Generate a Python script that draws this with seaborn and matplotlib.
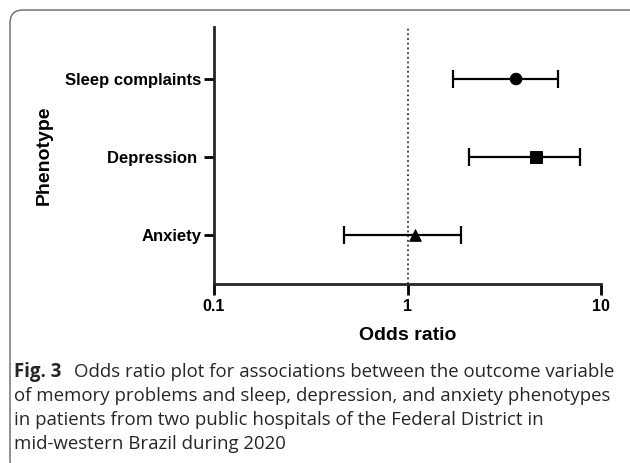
import numpy as np
import pandas as pd
import matplotlib
matplotlib.use("Agg")
import matplotlib.pyplot as plt
import seaborn as sns
from matplotlib.patches import FancyBboxPatch

# Data (top to bottom)
phenotypes = ["Sleep complaints", "Depression", "Anxiety"]
ytick_labels = ["Sleep complaints", "Depression ", "Anxiety"]
odds_ratio = [3.64, 4.60, 1.10]
ci_lower = [1.72, 2.07, 0.47]
ci_upper = [6.00, 7.80, 1.88]
marker_shapes = ["o", "s", "^"]

x_ticks = [0.1, 1, 10]
x_tick_labels = ["0.1", "1", "10"]

caption_bold = "Fig. 3"
caption_lines = [
    "Odds ratio plot for associations between the outcome variable",
    "of memory problems and sleep, depression, and anxiety phenotypes",
    "in patients from two public hospitals of the Federal District in",
    "mid-western Brazil during 2020",
]

sns.set_theme(style="ticks")
plt.rcParams["font.family"] = ["Liberation Sans", "DejaVu Sans"]

df = pd.DataFrame({
    "phenotype": phenotypes,
    "odds_ratio": odds_ratio,
    "lower": ci_lower,
    "upper": ci_upper,
})
# bottom category at 0, top at n-1
df["ypos"] = len(df) - 1 - np.arange(len(df))

W, H = 630, 463
fig = plt.figure(figsize=(W / 100, H / 100), dpi=100)
ax = fig.add_axes([214 / W, 1 - 284 / H, (601 - 214) / W, (284 - 27) / H])

# reference line at OR = 1
ax.axvline(1, color="#333333", linestyle=(0, (1, 1.6)), linewidth=1.3, zorder=1)

# confidence intervals
ax.errorbar(df["odds_ratio"], df["ypos"],
            xerr=[df["odds_ratio"] - df["lower"], df["upper"] - df["odds_ratio"]],
            fmt="none", ecolor="black", elinewidth=1.6, capsize=6.5, capthick=1.6,
            zorder=2)

# point estimates
sns.scatterplot(data=df, x="odds_ratio", y="ypos", style="phenotype",
                markers=dict(zip(phenotypes, marker_shapes)), color="black",
                edgecolor="black", s=70, legend=False, ax=ax, zorder=3)

ax.set_xscale("log")
ax.set_xlim(0.1, 10)
ax.set_ylim(-0.62, 2.665)
ax.set_xticks(x_ticks)
ax.set_xticklabels(x_tick_labels, fontsize=11.5, fontweight="bold")
ax.xaxis.set_minor_locator(matplotlib.ticker.NullLocator())
ax.set_yticks(df["ypos"])
ax.set_yticklabels(ytick_labels, fontsize=12, fontweight="bold")

for side in ["top", "right"]:
    ax.spines[side].set_visible(False)
for side in ["left", "bottom"]:
    ax.spines[side].set_linewidth(2.0)
ax.tick_params(axis="both", width=2.0, color="black", labelcolor="black")
ax.tick_params(axis="x", length=8, pad=3)
ax.tick_params(axis="y", length=7, pad=2)

ax.set_xlabel("Odds ratio", fontsize=14, fontweight="bold", color="black")
ax.set_ylabel("Phenotype", fontsize=14, fontweight="bold", color="black")
ax.xaxis.set_label_coords(0.5, (284 - 327) / 257)
ax.yaxis.set_label_coords((53 - 214) / 387, 0.5)

# rounded card border
card = FancyBboxPatch((0.10, -0.10), 6.5, 4.53 + 0.10,
                      boxstyle="round,pad=0,rounding_size=0.13",
                      transform=fig.dpi_scale_trans, facecolor="none",
                      edgecolor="#666666", linewidth=1.0, zorder=0)
fig.patches.append(card)

# caption
cap_font = ["Open Sans", "DejaVu Sans"]
cap_size = 13.4
x0 = 14 / W
baselines = [377, 401, 425, 449]
t0 = fig.text(x0, 1 - baselines[0] / H, caption_bold, fontsize=cap_size,
              fontweight="bold", family=cap_font, va="baseline", ha="left")
renderer = fig.canvas.get_renderer()
bb = t0.get_window_extent(renderer=renderer)
fig.text((bb.x1 + 13) / W, 1 - baselines[0] / H, caption_lines[0],
         fontsize=cap_size, family=cap_font, va="baseline", ha="left")
for line, yb in zip(caption_lines[1:], baselines[1:]):
    fig.text(x0, 1 - yb / H, line, fontsize=cap_size, family=cap_font,
             va="baseline", ha="left")

fig.savefig("out.png", dpi=100)
